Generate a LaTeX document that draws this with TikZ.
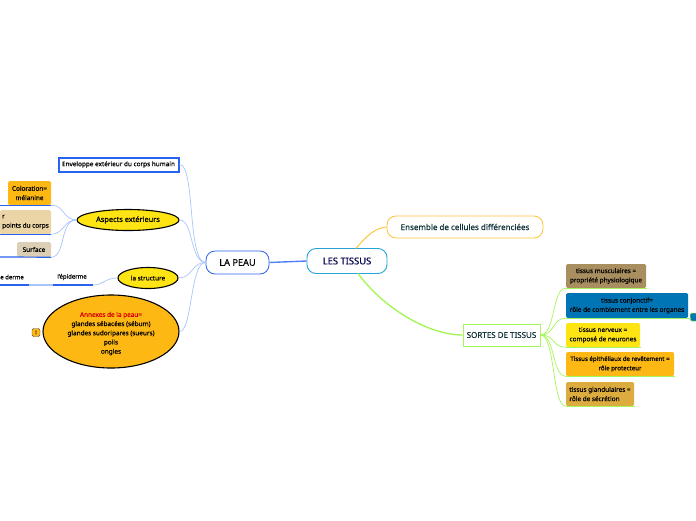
\documentclass[tikz,border=0pt]{standalone}
\usepackage{fontspec}
\usetikzlibrary{shapes.geometric}
\setmainfont[RawFeature={embolden=0.35}]{Noto Sans}
\definecolor{bluel}{HTML}{2A62F0}
\definecolor{bluec}{HTML}{A9C4FB}
\definecolor{greenl}{HTML}{A6F55A}
\definecolor{orl}{HTML}{FDB813}
\definecolor{yel}{HTML}{FFE414}
\definecolor{darkt}{HTML}{12343B}
\definecolor{sandc}{HTML}{EBD5A6}
\definecolor{surfc}{HTML}{DCCFB5}
\definecolor{musc}{HTML}{A98F5F}
\definecolor{conc}{HTML}{0075B5}
\definecolor{glac}{HTML}{DCAC3E}
\tikzset{
  x=1pt,y=-1pt,
  txt/.style={font=\fontsize{6.4}{9.3}\selectfont,align=center,text=black},
  fbox/.style={txt,rounded corners=1.5pt,inner sep=0pt},
  ell/.style={ellipse,draw=black,line width=1.1pt,fill=yel,inner sep=0pt},
  bcon/.style={draw=bluec,line width=.7pt},
  gcon/.style={draw=greenl,line width=.7pt},
  ubl/.style={draw=bluel,line width=1.2pt},
  ugr/.style={draw=greenl,line width=1.2pt},
  round1/.style={rounded corners=9pt,fill=white,inner sep=0pt},
}
\begin{document}
\begin{tikzpicture}
\useasboundingbox (0,0) rectangle (696,520);
\clip (0,0) rectangle (696,520);
% nodes
\node[draw=bluel,line width=2pt,fill=white,minimum width=120pt,minimum height=14pt,inner sep=0pt,font=\fontsize{6.4}{8}\selectfont] (env) at (118.5,164.5) {Enveloppe extérieur du corps humain};
\node[fbox,fill=orl,minimum width=43pt,minimum height=24pt] (col) at (29.5,193) {Coloration=\\mélanine};
\node[fbox,fill=sandc,minimum width=51pt,minimum height=24pt,align=left] (pts) at (25.5,222) {r\\points du corps};
\node[fbox,fill=surfc,minimum width=34pt,minimum height=15pt] (surf) at (34,249.5) {Surface};
\node[ell,minimum width=102pt,minimum height=21pt,font=\fontsize{7.4}{9}\selectfont] (asp) at (128,220) {Aspects extérieurs};
\node[ell,minimum width=60pt,minimum height=21pt,font=\fontsize{6.4}{8}\selectfont] (str) at (148,278) {la structure};
\node[txt,font=\fontsize{6}{7}\selectfont,inner sep=0pt] (epi) at (72,277) {l'épiderme};
\node[txt,font=\fontsize{6}{7}\selectfont,anchor=east,inner sep=0pt] (der) at (24,277) {e derme};
\node[ell,fill=orl,minimum width=136pt,minimum height=73pt,font=\fontsize{6.4}{9.2}\selectfont,align=center] (ann) at (111,331.5) {\rule{0pt}{9pt}\textcolor{red!85!black}{Annexes de la peau=}\\glandes sébacées (sébum)\\glandes sudoripares (sueurs)\\poils\\ongles};
\node[draw=black!70,fill=orl,rounded corners=1.5pt,line width=.4pt,minimum width=8pt,minimum height=8pt,inner sep=0pt,font=\fontsize{5}{5}\selectfont] (tag) at (36,332.5) {!};
\node[draw=bluel,line width=.8pt,round1,minimum width=63pt,minimum height=23pt,font=\fontsize{9.2}{10}\selectfont] (peau) at (237.5,262.5) {LA PEAU};
\node[draw=blue!30!cyan!70!gray,line width=.9pt,round1,minimum width=80pt,minimum height=25pt,font=\fontsize{9.4}{10}\selectfont,text=blue!30!black] (tiss) at (347,261) {LES TISSUS};
\node[draw=orl!85!white,line width=.8pt,round1,minimum width=156pt,minimum height=22pt,font=\fontsize{8}{9}\selectfont,text=darkt] (ens) at (465,227) {Ensemble de cellules différenciées};
\node[draw=greenl,line width=1pt,fill=white,minimum width=77pt,minimum height=22pt,inner sep=0pt,font=\fontsize{8}{9}\selectfont,text=darkt] (sor) at (501.5,335) {SORTES DE TISSUS};
\node[fbox,fill=musc,minimum width=80pt,minimum height=24pt] (mus) at (606,276) {tissus musculaires =\\propriété physiologique};
\node[fbox,fill=conc,minimum width=122pt,minimum height=25pt] (con) at (627,305.5) {tissus conjonctif=\\rôle de comblement entre les organes};
\node[fbox,fill=yel,minimum width=74pt,minimum height=24pt] (ner) at (603,335) {tissus nerveux =\\composé de neurones};
\node[fbox,fill=orl,minimum width=108pt,minimum height=24pt,font=\fontsize{6.1}{9.3}\selectfont] (epit) at (620,364) {Tissus épithéliaux de revêtement =\\rôle protecteur};
\node[fbox,fill=glac,minimum width=68pt,minimum height=24pt,align=left] (gla) at (600,394) {tissus glandulaires =\\rôle de sécrétion};
\node[draw=greenl,fill=conc,line width=.5pt,rounded corners=2pt,minimum width=8pt,minimum height=8pt,inner sep=0pt] (tag2) at (694,317) {};
% underlines
\draw[ubl] (col.south west) ++(-8,0) -- (col.south east);
\draw[ubl] (pts.south west) -- (pts.south east);
\draw[ubl] (0,257) -- (surf.south east);
\coordinate (epiL) at (53,285);
\coordinate (epiR) at (93,285);
\coordinate (derL) at (0,285);
\coordinate (derR) at (29,285);
\draw[ubl] (epiL) -- (epiR);
\draw[ubl] (derL) -- (derR);
\draw[ugr] (mus.south west) -- ++(81,0);
\draw[ugr] (con.south west) -- ++(125,0);
\draw[ugr] (ner.south west) -- ++(75,0);
\draw[ugr] (epit.south west) -- ++(109,0);
\draw[ugr] (gla.south west) -- ++(69,0);
% connectors
\draw[bcon] (env.east) .. controls +(16,0) and (187,262) .. (peau.west);
\draw[bcon] (asp.east) .. controls +(14,0) and (190,262) .. (peau.west);
\draw[bcon] (str.east) .. controls +(14,0) and (192,262) .. (peau.west);
\draw[bcon] (ann.east) .. controls +(13,0) and (190,262) .. (peau.west);
\draw[bcon] (asp.west) .. controls +(-13,0) and (64,205) .. (col.south east);
\draw[bcon] (asp.west) .. controls +(-13,0) and (64,234) .. (pts.south east);
\draw[bcon] (asp.west) .. controls +(-17,0) and (66,257) .. (surf.south east);
\draw[bcon] (str.west) .. controls +(-13,0) and (104,285) .. (epiR);
\draw[bcon,line width=1.2pt] (derR) -- (epiL);
\draw[draw=bluel!70!bluec,line width=1.4pt] (peau.east) -- (tiss.west);
\draw[draw=orl!80!white,line width=1pt] (356,248.5) .. controls (368,234) and (376,228) .. (ens.west);
\draw[draw=greenl,line width=1.4pt] (358,273.5) .. controls (385,310) and (430,335) .. (sor.west);
\foreach \n in {mus,con,ner,epit,gla}{
  \draw[gcon] (sor.east) .. controls +(15,0) and ([xshift=-14pt]\n.south west) .. (\n.south west);
}
\end{tikzpicture}
\end{document}
